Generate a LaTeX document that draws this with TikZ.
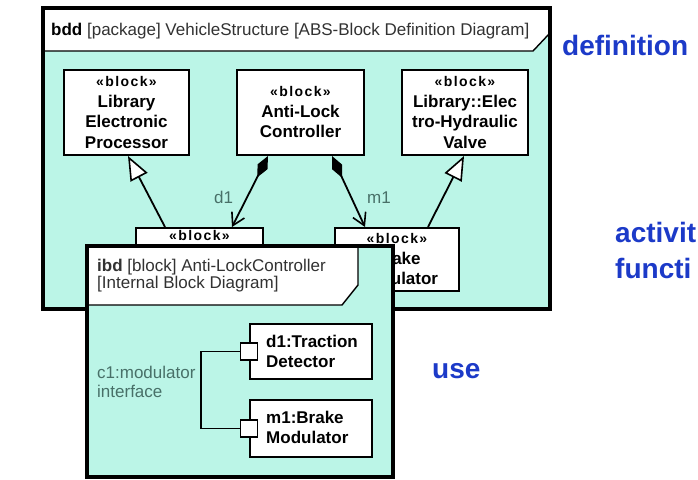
\documentclass[tikz,border=0pt]{standalone}
\usepackage{fontspec}
\setmainfont{Liberation Sans}
\usetikzlibrary{arrows.meta}
\definecolor{aqua}{RGB}{187,245,231}
\definecolor{bluetxt}{RGB}{28,58,200}
\definecolor{tealtxt}{RGB}{72,112,104}
\definecolor{hdrtxt}{RGB}{50,50,50}
\newcommand\stereofont{\fontsize{14}{20.5}\selectfont\addfontfeature{LetterSpace=10}}
\tikzset{
  framefill/.style={fill=aqua},
  frameline/.style={draw=black, line width=3.4pt},
  tab/.style={draw=black, line width=1.4pt, fill=white},
  hdr/.style={text=hdrtxt, font=\fontsize{17}{17}\selectfont, inner sep=0pt, anchor=base west, align=left},
  blk/.style={draw=black, line width=2pt, fill=white, inner sep=0pt, align=center,
    font=\fontsize{17}{20.5}\selectfont\bfseries},
  stereo/.style={inner sep=0pt, anchor=base, font=\bfseries\stereofont},
  part/.style={draw=black, line width=2pt, fill=white, inner sep=0pt},
  ptxt/.style={inner sep=0pt, anchor=base west, align=left, font=\fontsize{17}{20}\selectfont\bfseries},
  port/.style={draw=black, line width=1.6pt, fill=white, inner sep=0pt, minimum size=17pt},
  conn/.style={draw=black, line width=1.6pt},
  gen/.style={line width=1.8pt, -{Triangle[fill=white, length=24pt, width=19pt, line width=1.6pt]}},
  comp/.style={line width=1.8pt, {Diamond[length=24pt, width=11pt]}-{Straight Barb[length=12pt, width=14pt, line width=1.6pt]}},
  lbl/.style={text=tealtxt, font=\fontsize{17}{19}\selectfont, inner sep=0pt, anchor=base west, align=left},
  big/.style={text=bluetxt, font=\fontsize{28}{32}\selectfont\bfseries, inner sep=0pt, anchor=base west, align=left},
}
\begin{document}
\begin{tikzpicture}[x=1pt,y=-1pt]
\useasboundingbox (0,0) rectangle (698,479);
% ---------------- bdd frame ----------------
\fill[framefill] (43,8) rectangle (550,309);
\draw[tab] (43,8) -- (549,8) -- (549,34) -- (533,51) -- (43,51) -- cycle;
\draw[frameline] (43,8) rectangle (550,309);
\node[hdr] (bddh) at (51,35) {\textcolor{black}{\textbf{bdd}} [package] VehicleStructure [ABS-Block Definition Diagram]};
% blocks
\node[blk, minimum width=125pt, minimum height=85pt] (lep) at (126.5,112.5)
  {{\stereofont «block»}\\Library\\Electronic\\Processor};
\node[blk, minimum width=127pt, minimum height=85pt] (alc) at (300.5,112.5)
  {{\stereofont «block»}\\Anti-Lock\\Controller};
\node[blk, minimum width=126pt, minimum height=85pt] (ehv) at (465,112.5)
  {{\stereofont «block»}\\Library::Elec\\tro-Hydraulic\\Valve};
\node[blk, minimum width=127pt, minimum height=63pt] (td) at (199.5,259.5) {};
\node[stereo] (tdst) at (199.5,240) {«block»};
\node[blk, minimum width=124pt, minimum height=63pt] (bm) at (397,259.5)
  {{\stereofont «block»}\\Brake\\Modulator};
% connectors
\draw[gen] ([xshift=-34.5pt]td.north) -- ([xshift=1.5pt]lep.south);
\draw[gen] ([xshift=31pt]bm.north) -- ([xshift=-1pt]ehv.south);
\draw[comp] ([xshift=-32.5pt]alc.south) -- ([xshift=32.5pt]td.north);
\draw[comp] ([xshift=31.5pt]alc.south) -- ([xshift=-32pt]bm.north);
\node[lbl] (d1l) at (214,203) {d1};
\node[lbl] (m1l) at (367,203) {m1};
% ---------------- ibd frame ----------------
\fill[framefill] (87,246) rectangle (393,477);
\draw[tab] (87,246) -- (358,246) -- (358,285) -- (342,305) -- (87,305) -- cycle;
\draw[frameline] (87,246) rectangle (393,477);
\node[hdr] (ibdh) at (97,288) {\textbf{ibd} [block] Anti-LockController\\{}[Internal Block Diagram]};
\node[part, minimum width=122pt, minimum height=55pt] (tdp) at (311,351.5) {};
\node[part, minimum width=122pt, minimum height=57pt] (bmp) at (311,428.5) {};
\node[ptxt] (tdt) at (266,367) {d1:Traction\\Detector};
\node[ptxt] (bmt) at (266,443) {m1:Brake\\Modulator};
\node[port] (p1) at (tdp.west) {};
\node[port] (p2) at (bmp.west) {};
\coordinate (cb) at (201,352);
\draw[conn] (p1.west) -- (p1.west -| cb) |- (p2.west);
\node[lbl] (c1) at (97,397) {c1:modulator\\interface};
% ---------------- side labels ----------------
\node[big] (def) at (562,55) {definition};
\node[big] (act) at (615,242) {activit};
\node[big] (fun) at (615,278) {functi};
\node[big] (use) at (432,378) {use};
\end{tikzpicture}
\end{document}
